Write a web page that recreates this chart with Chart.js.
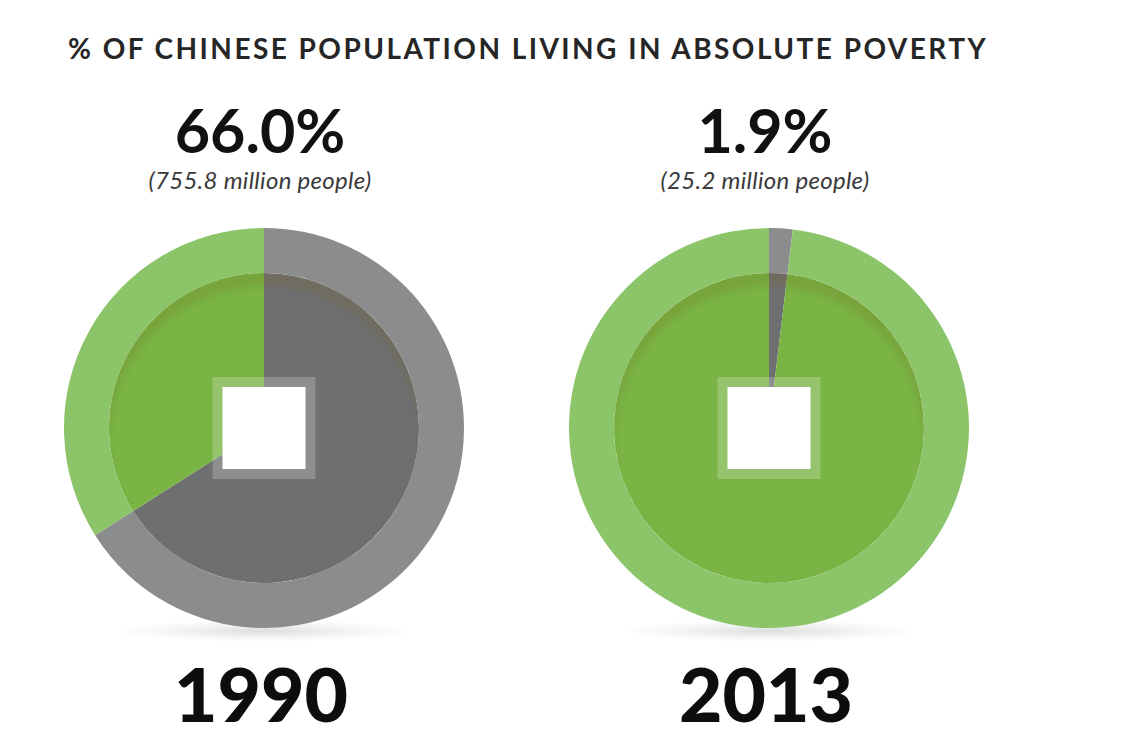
<!DOCTYPE html>
<html>
<head>
<meta charset="utf-8">
<script src="https://cdn.jsdelivr.net/npm/chart.js@4.4.1/dist/chart.umd.min.js"></script>
<style>
  body { margin: 0; background: #fff; font-family: Lato, "Open Sans", sans-serif; color: #1a1a1a; }
  #page { position: relative; width: 1133px; height: 755px; overflow: hidden; }
  #title { position: absolute; left: 68px; top: 31px; font-size: 28px; font-weight: 700; letter-spacing: 2.45px; color: #262626; white-space: nowrap; }
  .pct { position: absolute; width: 400px; text-align: center; top: 93px; font-size: 61px; font-weight: 700; color: #111; }
  .people { position: absolute; width: 400px; text-align: center; top: 165px; font-size: 24px; font-style: italic; letter-spacing: 0.3px; color: #3a3a3a; }
  .year { position: absolute; width: 400px; text-align: center; top: 648px; font-size: 75px; font-weight: 900; color: #0d0d0d; }
  .pie { position: absolute; top: 228px; width: 400px; height: 400px; }
  .shadow { position: absolute; top: 620px; width: 300px; height: 22px;
            background: radial-gradient(ellipse at center, rgba(0,0,0,0.13) 0%, rgba(0,0,0,0.04) 45%, rgba(0,0,0,0) 70%); }
</style>
</head>
<body>
<div id="page">
  <div id="title">% OF CHINESE POPULATION LIVING IN ABSOLUTE POVERTY</div>
</div>
<script>
// data
var years = ['1990', '2013'];
var povertyShare = [66.0, 1.9];
var otherShare = [34.0, 98.1];
var peopleMillions = ['755.8', '25.2'];
var sliceLabels = ['Living in absolute poverty', 'Not in absolute poverty'];

var outerColors = ['#8b8c8e', '#8cc46a'];
var innerColors = ['#6e6f71', '#79b444'];
var chartLeft = [64, 569];

// soft shadow at the top of the inner disc + white square with a pale frame
var coinDecor = {
    id: 'coinDecor',
    afterDraw: function(chart) {
        var ctx = chart.ctx;
        var a = chart.chartArea;
        var cx = (a.left + a.right) / 2;
        var cy = (a.top + a.bottom) / 2;
        var r = chart.getDatasetMeta(1).data[0].outerRadius;
        ctx.save();
        ctx.beginPath();
        ctx.arc(cx, cy, r, 0, Math.PI * 2);
        ctx.clip();
        ctx.filter = 'blur(3px)';
        ctx.beginPath();
        ctx.arc(cx, cy, r + 4, 0, Math.PI * 2);
        ctx.arc(cx, cy + 13, r, 0, Math.PI * 2, true);
        ctx.fillStyle = 'rgba(120,100,30,0.2)';
        ctx.fill();
        ctx.restore();

        ctx.save();
        ctx.fillStyle = 'rgba(255,255,255,0.22)';
        ctx.fillRect(cx - 51.5, cy - 51, 103, 102);
        ctx.fillStyle = '#ffffff';
        ctx.fillRect(cx - 41.5, cy - 41, 83, 82);
        ctx.restore();
    }
};

var page = document.getElementById('page');

for (var i = 0; i < years.length; i++) {
    var left = chartLeft[i];

    var pct = document.createElement('div');
    pct.className = 'pct';
    pct.style.left = (left - 4) + 'px';
    pct.textContent = povertyShare[i].toFixed(1) + '%';
    page.appendChild(pct);

    var people = document.createElement('div');
    people.className = 'people';
    people.style.left = (left - 4) + 'px';
    people.textContent = '(' + peopleMillions[i] + ' million people)';
    page.appendChild(people);

    var shadow = document.createElement('div');
    shadow.className = 'shadow';
    shadow.style.left = (left + 50) + 'px';
    page.appendChild(shadow);

    var box = document.createElement('div');
    box.className = 'pie';
    box.style.left = left + 'px';
    var canvas = document.createElement('canvas');
    box.appendChild(canvas);
    page.appendChild(box);

    var year = document.createElement('div');
    year.className = 'year';
    year.style.left = (left - 3) + 'px';
    year.textContent = years[i];
    page.appendChild(year);

    new Chart(canvas, {
        type: 'pie',
        data: {
            labels: sliceLabels,
            datasets: [
                {
                    data: [povertyShare[i], otherShare[i]],
                    backgroundColor: outerColors,
                    borderWidth: 0,
                    weight: 45
                },
                {
                    data: [povertyShare[i], otherShare[i]],
                    backgroundColor: innerColors,
                    borderWidth: 0,
                    weight: 155
                }
            ]
        },
        options: {
            responsive: true,
            maintainAspectRatio: false,
            animation: false,
            layout: { padding: 0 },
            plugins: {
                legend: { display: false },
                tooltip: { enabled: false }
            }
        },
        plugins: [coinDecor]
    });
}
</script>
</body>
</html>
